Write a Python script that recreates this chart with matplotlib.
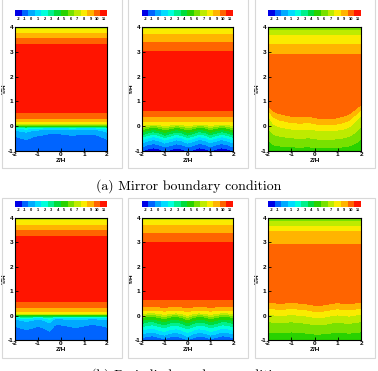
import numpy as np
import matplotlib
matplotlib.use("Agg")
import matplotlib.pyplot as plt
from matplotlib.colors import ListedColormap, BoundaryNorm
from matplotlib.patches import Rectangle

W, H = 378, 371

# colour table (one colour per integer level -2 .. 11)
lev_labels = [-2, -1, 0, 1, 2, 3, 4, 5, 6, 7, 8, 9, 10, 11]
lev_colors = ["#0000e6", "#0064ff", "#00aaff", "#00dcff", "#00ffdc", "#00f08c",
              "#00dc3c", "#28d200", "#78e100", "#beeb00", "#faeb00", "#ffb400",
              "#ff6400", "#ff1400"]

z_nodes = [-2, -1.75, -1.5, -1.25, -1, -0.75, -0.5, -0.25, 0,
           0.25, 0.5, 0.75, 1, 1.25, 1.5, 1.75, 2]
taper_nodes = [-1, -0.5, -0.25, 0, 0.25, 0.5, 1, 1.5]

# (a) mirror boundary condition
a1_y = [-1.0, -0.6, -0.38, -0.15, -0.08, -0.03, 0.03, 0.07, 0.15, 0.3, 0.55, 0.7,
        3.1, 3.3, 3.55, 3.75, 3.9, 4.0]
a1_v = [-0.9, -0.9, -0.5, 0.5, 1.4, 3.0, 6.5, 7.5, 8.5, 9.5, 10.5, 11.2,
        11.2, 10.5, 9.5, 8.5, 7.5, 6.8]
a1_taper = [1, 1, 0.6, 0, 0, 0, 0, 0]
a1_lift = [-0.03, -0.1, -0.15, -0.07, 0, 0.05, 0.13, 0.13, 0.1,
           0.05, 0.02, 0.05, 0.08, 0.08, 0.05, -0.05, -0.15]

a2_y = [-1.0, -0.95, -0.78, -0.62, -0.5, -0.4, -0.3, -0.2, -0.1, -0.02, 0.05,
        0.2, 0.35, 0.6, 0.75, 2.9, 3.05, 3.4, 3.7, 3.9, 4.0]
a2_v = [-1.6, -1.5, -0.5, 0.5, 1.5, 2.5, 3.5, 4.5, 5.5, 6.5, 7.5,
        8.5, 9.5, 10.5, 11.2, 11.2, 10.5, 9.5, 8.5, 7.5, 6.8]
a2_taper = [1, 1, 1, 0.6, 0, 0, 0, 0]
a2_lift = [-0.05, 0.03, 0.08, 0.03, -0.06, 0.0, 0.07, 0.03, -0.06,
           0.0, 0.08, 0.05, -0.05, 0.02, 0.08, 0.03, -0.05]

a3_y = [-1.0, -0.85, -0.5, -0.15, 0.1, 0.35, 0.6, 2.7, 2.9, 3.3, 3.65, 3.85, 4.0]
a3_v = [5.2, 5.5, 6.5, 7.5, 8.5, 9.5, 10.1, 10.1, 9.5, 8.5, 7.5, 6.5, 5.8]
a3_taper = [0.2, 0.6, 0.7, 0.85, 1, 1, 0.8, 0]
a3_lift = [0.55, 0.25, 0.15, 0.1, 0.05, 0.03, 0.03, 0.05, 0,
           -0.05, -0.05, -0.05, 0, 0.05, 0.15, 0.35, 0.6]

# (b) periodic boundary condition
b1_y = [-1.0, -0.6, -0.42, -0.15, -0.08, -0.03, 0.03, 0.07, 0.15, 0.3, 0.55, 0.7,
        3.05, 3.25, 3.5, 3.72, 3.9, 4.0]
b1_v = [-1.2, -0.9, -0.5, 0.5, 1.4, 3.0, 6.5, 7.5, 8.5, 9.5, 10.5, 11.2,
        11.2, 10.5, 9.5, 8.5, 7.5, 6.8]
b1_taper = [1, 1, 0.6, 0, 0, 0, 0, 0]
b1_lift = [0.0, -0.1, -0.15, -0.1, 0.0, -0.1, -0.22, 0.05, 0.05,
           0.0, -0.05, -0.05, 0.0, 0.05, 0.05, 0.0, -0.05]

b2_y = [-1.0, -0.9, -0.75, -0.6, -0.45, -0.32, -0.2, -0.08, 0.0, 0.08, 0.2,
        0.35, 0.65, 0.8, 2.85, 3.0, 3.35, 3.7, 3.9, 4.0]
b2_v = [-1.0, -0.5, 0.5, 1.5, 2.5, 3.5, 4.5, 5.5, 6.5, 7.5, 8.5,
        9.5, 10.5, 11.2, 11.2, 10.5, 9.5, 8.5, 7.5, 6.8]
b2_taper = [1, 1, 1, 0.7, 0.2, 0, 0, 0]
b2_lift = [0.0, 0.06, 0.07, 0.0, -0.05, 0.03, 0.06, 0.0, -0.1,
           0.0, 0.06, 0.03, -0.05, 0.0, 0.07, 0.06, 0.0]

b3_y = [-1.0, -0.7, -0.3, 0.0, 0.25, 0.5, 0.65, 2.75, 2.9, 3.25, 3.45, 3.65, 3.85, 4.0]
b3_v = [5.2, 5.5, 6.5, 7.5, 8.5, 9.5, 10.1, 10.1, 9.5, 8.9, 8.5, 7.5, 6.5, 5.8]
b3_taper = [0.5, 0.8, 1, 1, 1, 1, 0.5, 0]
b3_lift = [0.05, 0.03, 0.0, 0.02, 0.05, 0.02, 0.0, -0.03, -0.08,
           -0.08, -0.05, 0.0, 0.03, 0.0, -0.02, 0.02, 0.05]

panels = [
    (a1_y, a1_v, a1_taper, a1_lift, (15, 27, 107, 151)),
    (a2_y, a2_v, a2_taper, a2_lift, (142, 27, 233, 151)),
    (a3_y, a3_v, a3_taper, a3_lift, (268, 27, 361, 151)),
    (b1_y, b1_v, b1_taper, b1_lift, (15, 218, 107, 340)),
    (b2_y, b2_v, b2_taper, b2_lift, (142, 218, 233, 340)),
    (b3_y, b3_v, b3_taper, b3_lift, (268, 218, 361, 340)),
]

cmap = ListedColormap(lev_colors)
bounds = np.arange(-2.5, 12.0, 1.0)
norm = BoundaryNorm(bounds, cmap.N)

fig = plt.figure(figsize=(W / 100, H / 100), dpi=100)


def box(x0, y0, x1, y1):
    return [x0 / W, 1 - y1 / H, (x1 - x0) / W, (y1 - y0) / H]


tick_font = dict(family="Liberation Sans", weight="bold", size=4.6)

zz = np.linspace(-2, 2, 161)
yy = np.linspace(-1, 4, 251)
Z, Y = np.meshgrid(zz, yy)

for py, pv, ptap, plift, (x0, y0, x1, y1) in panels:
    lift = np.interp(Z, z_nodes, plift)
    tap = np.interp(Y, taper_nodes, ptap)
    field = np.interp(Y - lift * tap, py, pv)

    ax = fig.add_axes(box(x0, y0, x1, y1))
    ax.contourf(Z, Y, field, levels=bounds, cmap=cmap, norm=norm, extend="both")
    ax.set_xlim(-2, 2)
    ax.set_ylim(-1, 4)
    ax.set_xticks([-2, -1, 0, 1, 2])
    ax.set_yticks([-1, 0, 1, 2, 3, 4])
    ax.set_xticklabels([str(t) for t in [-2, -1, 0, 1, 2]], fontdict=tick_font)
    ax.set_yticklabels([str(t) for t in [-1, 0, 1, 2, 3, 4]], fontdict=tick_font)
    ax.tick_params(direction="in", length=2, width=0.6, pad=1)
    for s in ax.spines.values():
        s.set_linewidth(0.8)
    ax.set_xlabel("Z/H", fontdict=tick_font, labelpad=0.5)
    ax.set_ylabel("Y/H", fontdict=tick_font, labelpad=0.5)

    # legend bar above the plot
    cax = fig.add_axes(box(x0, y0 - 17, x1, y0 - 11))
    cax.imshow(np.arange(len(lev_labels))[None, :], cmap=cmap, aspect="auto",
               extent=(-0.5, len(lev_labels) - 0.5, 0, 1))
    cax.set_yticks([])
    cax.set_xticks(range(len(lev_labels)))
    cax.set_xticklabels([str(v) for v in lev_labels],
                        fontdict=dict(family="Liberation Sans", weight="bold", size=2.9))
    cax.tick_params(length=0, pad=1)
    for s in cax.spines.values():
        s.set_visible(False)

# light frames around every sub-figure
for fx0, fx1 in [(2, 122), (128, 248), (255, 375)]:
    for fy0, fy1 in [(-2, 168), (198, 358)]:
        fig.add_artist(Rectangle((fx0 / W, 1 - fy1 / H), (fx1 - fx0) / W, (fy1 - fy0) / H,
                                 transform=fig.transFigure, fill=False,
                                 ec="#d8d8d8", lw=0.8))

fig.text(0.5, 1 - 186 / H, "(a) Mirror boundary condition", family="cmr10",
         size=10, ha="center", va="center")
fig.text(0.5, 1 - 375 / H, "(b) Periodic boundary condition", family="cmr10",
         size=10, ha="center", va="center")

fig.savefig("out.png", dpi=100)
